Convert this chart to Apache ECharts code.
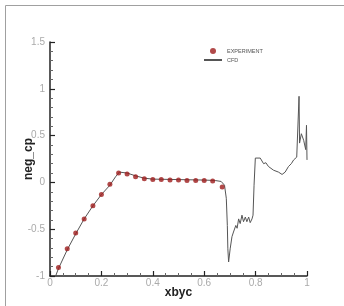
<!DOCTYPE html>
<html>
<head>
<meta charset="utf-8">
<script src="https://cdn.jsdelivr.net/npm/echarts@6/dist/echarts.min.js"></script>
<style>
  html, body { margin: 0; padding: 0; background: #fff; }
  #chart { width: 344px; height: 306px; }
</style>
</head>
<body>
<div id="chart"></div>
<script>
// experiment points (xbyc, neg_cp)
var expX = [0.033, 0.067, 0.1, 0.133, 0.167, 0.2, 0.233, 0.267, 0.3, 0.333,
  0.367, 0.4, 0.433, 0.467, 0.5, 0.533, 0.567, 0.6, 0.633, 0.67]
var expY = [-0.91, -0.71, -0.54, -0.39, -0.25, -0.13, -0.02, 0.10, 0.09, 0.06,
  0.04, 0.03, 0.03, 0.025, 0.025, 0.02, 0.02, 0.02, 0.015, -0.05]

// CFD curve
var cfdX = [0.022, 0.033, 0.067, 0.1, 0.133, 0.167, 0.2, 0.233, 0.255, 0.27,
  0.3, 0.333, 0.367, 0.4, 0.5, 0.6, 0.643, 0.666, 0.679, 0.686,
  0.69, 0.692, 0.695, 0.701, 0.708, 0.714, 0.723, 0.728, 0.734, 0.74,
  0.747, 0.753, 0.76, 0.766, 0.773, 0.779, 0.786, 0.79, 0.794, 0.799,
  0.805, 0.818, 0.831, 0.84, 0.85, 0.87, 0.889, 0.903, 0.915, 0.928,
  0.939, 0.948, 0.96, 0.966, 0.969, 0.971, 0.978, 0.987, 0.995, 0.998,
  1.0]
var cfdY = [-1.0, -0.92, -0.72, -0.55, -0.39, -0.25, -0.13, -0.03, 0.06, 0.11,
  0.10, 0.07, 0.045, 0.035, 0.03, 0.025, 0.02, 0.01, -0.03, -0.17,
  -0.46, -0.71, -0.85, -0.71, -0.58, -0.53, -0.46, -0.49, -0.39, -0.44,
  -0.35, -0.42, -0.37, -0.42, -0.37, -0.43, -0.39, -0.35, -0.03, 0.26,
  0.28, 0.26, 0.20, 0.21, 0.17, 0.13, 0.11, 0.085, 0.11, 0.17,
  0.20, 0.24, 0.27, 0.29, 0.92, 0.42, 0.52, 0.45, 0.35, 0.61,
  0.24]

var xTicks = [0, 0.2, 0.4, 0.6, 0.8, 1]
var yTicks = [-1, -0.5, 0, 0.5, 1, 1.5]

var expData = expX.map(function (x, i) { return [x, expY[i]] })
var cfdData = cfdX.map(function (x, i) { return [x, cfdY[i]] })

var chart = echarts.init(document.getElementById('chart'))
chart.setOption({
  animation: false,
  graphic: [
    {
      type: 'rect',
      shape: { x: 5.5, y: 5.5, width: 400, height: 400 },
      style: { fill: 'none', stroke: '#a0a0a0', lineWidth: 1 }
    }
  ],
  grid: {
    left: 50,
    top: 42,
    right: 37,
    bottom: 30
  },
  legend: {
    orient: 'vertical',
    left: 198,
    top: 43,
    itemWidth: 18,
    itemHeight: 6,
    itemGap: 3,
    textStyle: { fontSize: 5.5, color: '#555', fontFamily: 'Liberation Sans' },
    data: [
      { name: 'EXPERIMENT', icon: 'circle' },
      { name: 'CFD', itemStyle: { opacity: 0 } }
    ]
  },
  xAxis: {
    type: 'value',
    min: xTicks[0],
    max: xTicks[xTicks.length - 1],
    interval: 0.2,
    name: 'xbyc',
    nameLocation: 'middle',
    nameGap: 11,
    nameMoveOverlap: false,
    nameTextStyle: { fontSize: 12, fontWeight: 'bold', color: '#222', fontFamily: 'Liberation Sans' },
    axisLine: { onZero: false, lineStyle: { color: '#222', width: 1.5 } },
    axisTick: { inside: true, length: 5, lineStyle: { color: '#222', width: 1.2 } },
    minorTick: { show: true, splitNumber: 4, length: 3, lineStyle: { color: '#666' } },
    axisLabel: { margin: 2, fontSize: 10, color: '#aaa', fontFamily: 'Liberation Sans' },
    splitLine: { show: false }
  },
  yAxis: {
    type: 'value',
    min: yTicks[0],
    max: yTicks[yTicks.length - 1],
    interval: 0.5,
    name: 'neg_cp',
    nameLocation: 'middle',
    nameGap: 15,
    nameMoveOverlap: false,
    nameTextStyle: { fontSize: 12, fontWeight: 'bold', color: '#222', fontFamily: 'Liberation Sans' },
    axisLine: { show: true, onZero: false, lineStyle: { color: '#222', width: 1.5 } },
    axisTick: { show: true, inside: true, length: 5, lineStyle: { color: '#222', width: 1.2 } },
    minorTick: { show: true, splitNumber: 5, length: 3, lineStyle: { color: '#666' } },
    axisLabel: { margin: 5, fontSize: 10, color: '#aaa', fontFamily: 'Liberation Sans' },
    splitLine: { show: false }
  },
  series: [
    {
      name: 'CFD',
      type: 'line',
      data: cfdData,
      symbol: 'none',
      smooth: false,
      lineStyle: { color: '#555', width: 1 },
      itemStyle: { color: '#555' },
      z: 2
    },
    {
      name: 'EXPERIMENT',
      type: 'scatter',
      data: expData,
      symbol: 'circle',
      symbolSize: 5,
      itemStyle: { color: '#9e1c1c' },
      z: 3
    }
  ]
})
</script>
</body>
</html>
